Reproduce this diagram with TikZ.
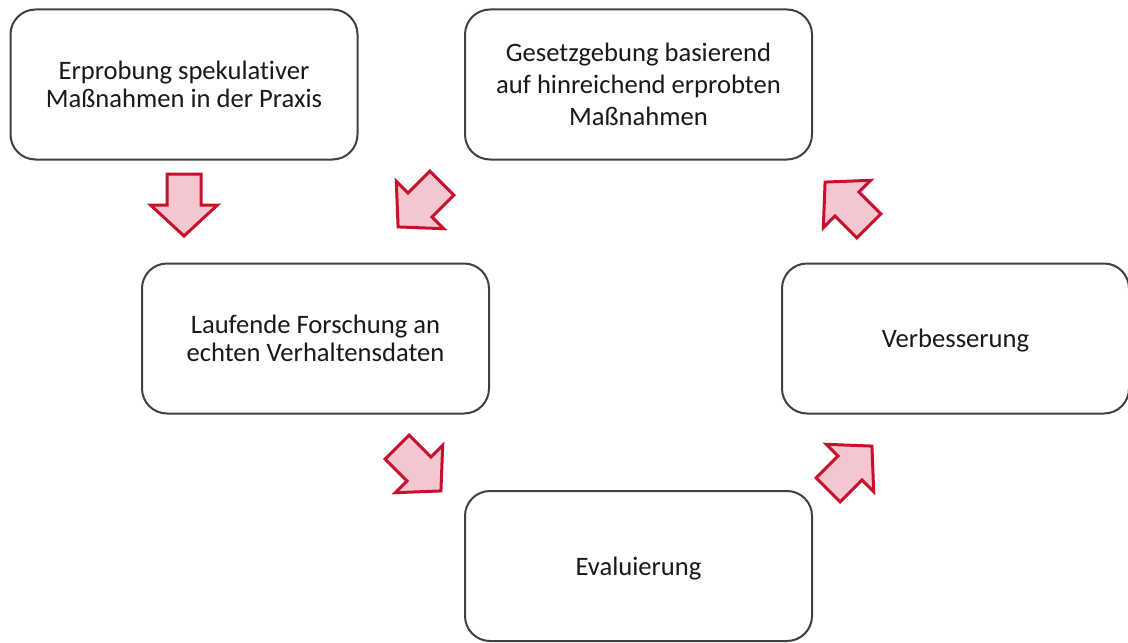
\documentclass[tikz,border=0pt]{standalone}
\usepackage{fontspec}
\setmainfont{Carlito}[Ligatures=NoCommon]
\definecolor{boxline}{HTML}{404040}
\definecolor{arrowred}{HTML}{C8102E}
\definecolor{arrowpink}{HTML}{F4C7D0}
\tikzset{
  stagebox/.style={draw=boxline, line width=1pt, rounded corners=12.5pt, fill=white,
    minimum width=173.5pt, minimum height=75pt, align=center,
    font=\fontsize{13.3}{14}\selectfont, text=black!90},
  blockarr/.pic={
    \draw[draw=arrowred, fill=arrowpink, line width=1.5pt, line join=miter]
      (-15.5pt,-8.5pt) -- (0pt,-8.5pt) -- (0pt,-16.75pt) -- (15.5pt,0pt)
      -- (0pt,16.75pt) -- (0pt,8.5pt) -- (-15.5pt,8.5pt) -- cycle;
  }
}
\begin{document}
\begin{tikzpicture}[x=0.5pt, y=-0.5pt]
        \useasboundingbox (0,0) rectangle (1128,642);
        \node [stagebox] (erprobung) at (184,84.5) {Erprobung spekulativer\\Maßnahmen in der Praxis};
        \node [stagebox, font=\fontsize{13.3}{16}\selectfont] (gesetz) at (638.5,84.5) {Gesetzgebung basierend\\auf hinreichend erprobten\\Maßnahmen};
        \node [stagebox] (forschung) at (315.5,338.5) {Laufende Forschung an\\echten Verhaltensdaten};
        \node [stagebox, text depth=0pt] (verbesserung) at (955.5,338.5) {Verbesserung};
        \node [stagebox, text depth=0pt] (evaluierung) at (638.5,566) {Evaluierung};
        
        \pic[rotate=-90] at (184,205) {blockarr};
        \pic[rotate=-135] at (420,205) {blockarr};
        \pic[rotate=-45] at (419,469) {blockarr};
        \pic[rotate=45] at (850,468) {blockarr};
        \pic[rotate=135] at (847,204) {blockarr};
    \end{tikzpicture}
\end{document}
